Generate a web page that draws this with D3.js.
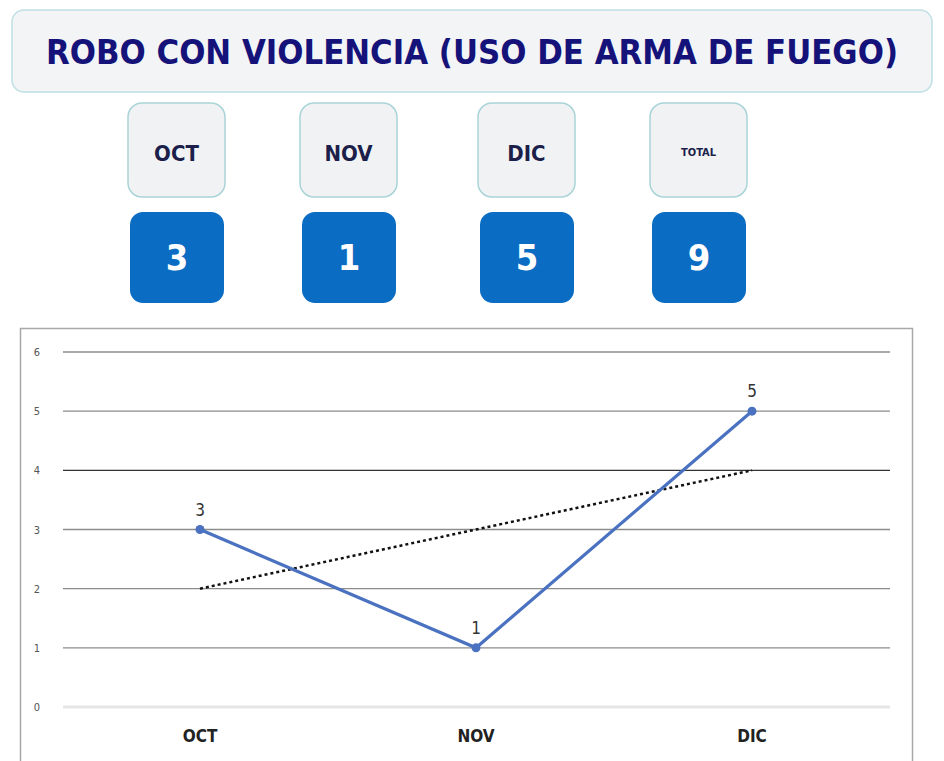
<!DOCTYPE html>
<html><head><meta charset="utf-8">
<script src="https://cdn.jsdelivr.net/npm/d3@7"></script>
<style>
body{margin:0;background:#fff;}
svg{display:block;}
</style></head>
<body>
<svg id="c" width="944" height="761"></svg>
<script>
const titleText = "ROBO CON VIOLENCIA (USO DE ARMA DE FUEGO)";
const months = ["OCT","NOV","DIC"];
const values = [3,1,5];
const trend = [2,3,4];
const cardLabels = ["OCT","NOV","DIC","TOTAL"];
const cardValues = [3,1,5,9];
const yTicks = [0,1,2,3,4,5,6];

const svg = d3.select("#c");
const font = "'DejaVu Sans Condensed','DejaVu Sans',sans-serif";

// Title box
svg.append("rect").attr("x",12).attr("y",10).attr("width",920).attr("height",82)
  .attr("rx",12).attr("fill","#f2f4f6").attr("stroke","#bfe0e4").attr("stroke-width",1.5);
svg.append("text").attr("x",472).attr("y",64).attr("text-anchor","middle")
  .attr("font-family",font).attr("font-weight","bold").attr("font-size",33)
  .attr("fill","#15127a").attr("textLength",852).attr("lengthAdjust","spacingAndGlyphs")
  .text(titleText);

// Cards
const cardX = d3.scaleOrdinal().domain(cardLabels).range([128,300,478,650]);
const cards = svg.selectAll("g.card").data(cardLabels).join("g").attr("class","card")
  .attr("transform",d=>`translate(${cardX(d)},0)`);
cards.append("rect").attr("x",0).attr("y",103).attr("width",97).attr("height",94).attr("rx",14)
  .attr("fill","#f1f2f4").attr("stroke","#a9d4d8").attr("stroke-width",1.5);
cards.append("text").attr("x",48.5).attr("y",d=>d==="TOTAL"?156:161).attr("text-anchor","middle")
  .attr("font-family",font).attr("font-weight","bold")
  .attr("font-size",d=>d==="TOTAL"?11:22).attr("fill","#1b1f4a").text(d=>d);
cards.append("rect").attr("x",2).attr("y",212).attr("width",94).attr("height",91).attr("rx",13)
  .attr("fill","#0a6cc2");
cards.append("text").attr("x",49).attr("y",270).attr("text-anchor","middle")
  .attr("font-family",font).attr("font-weight","bold").attr("font-size",36)
  .attr("fill","#ffffff").text((d,i)=>cardValues[i]);

// Chart frame
svg.append("rect").attr("x",20.5).attr("y",328.5).attr("width",892).attr("height",440)
  .attr("fill","#fff").attr("stroke","#a8a8a8").attr("stroke-width",1.5);

const x = d3.scalePoint().domain(months).range([200,752]);
const y = d3.scaleLinear().domain([0,6]).range([707,352]);

// gridlines
svg.append("g").selectAll("line").data(yTicks).join("line")
  .attr("x1",63).attr("x2",890).attr("y1",d=>y(d)).attr("y2",d=>y(d))
  .attr("stroke",d=>d===0?"#e6e6e6":(d===4?"#333":"#8c8c8c")).attr("stroke-width",d=>d===0?3:1.3);

// y tick labels
svg.append("g").selectAll("text").data(yTicks).join("text")
  .attr("x",37).attr("y",d=>y(d)+4).attr("text-anchor","middle")
  .attr("font-family",font).attr("font-size",11).attr("fill","#555").text(d=>d);

// x labels
svg.append("g").selectAll("text").data(months).join("text")
  .attr("x",d=>x(d)).attr("y",742).attr("text-anchor","middle")
  .attr("font-family",font).attr("font-weight","bold").attr("font-size",17)
  .attr("fill","#222").text(d=>d);

// trend line
svg.append("path").datum(trend)
  .attr("d",d3.line().x((d,i)=>x(months[i])).y(d=>y(d)))
  .attr("fill","none").attr("stroke","#111").attr("stroke-width",2.5).attr("stroke-dasharray","3,3");

// data line
svg.append("path").datum(values)
  .attr("d",d3.line().x((d,i)=>x(months[i])).y(d=>y(d)))
  .attr("fill","none").attr("stroke","#4a72c0").attr("stroke-width",3.2);
svg.append("g").selectAll("circle").data(values).join("circle")
  .attr("cx",(d,i)=>x(months[i])).attr("cy",d=>y(d)).attr("r",4.5).attr("fill","#4a72c0");
svg.append("g").selectAll("text").data(values).join("text")
  .attr("x",(d,i)=>x(months[i])).attr("y",d=>y(d)-14).attr("text-anchor","middle")
  .attr("font-family",font).attr("font-size",17).attr("fill","#333").text(d=>d);
</script>
</body></html>
